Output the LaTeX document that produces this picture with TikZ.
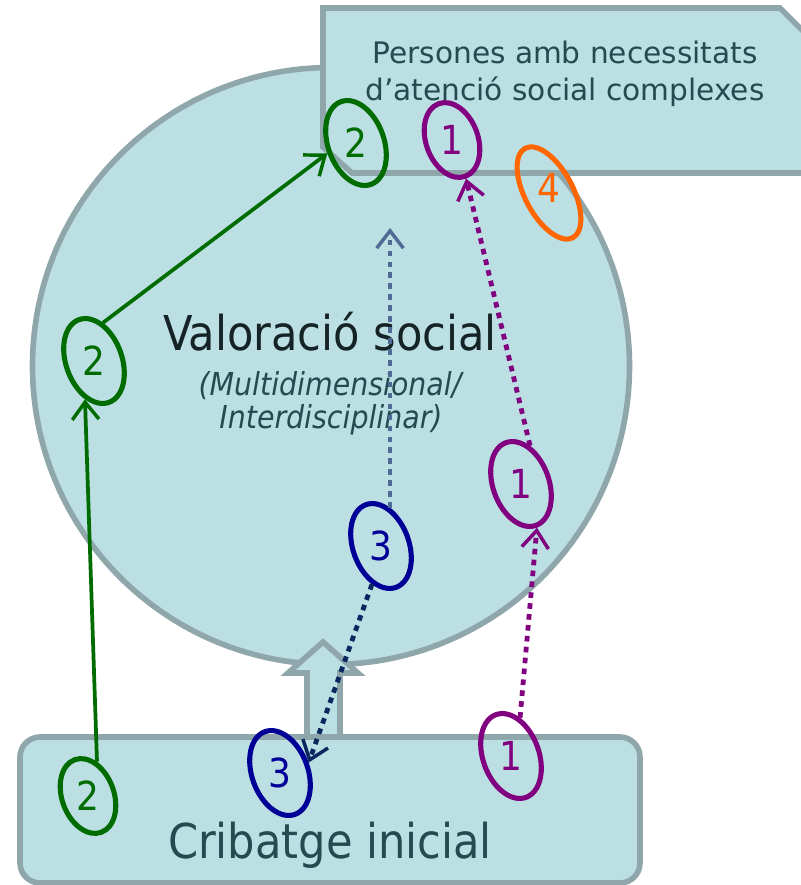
\documentclass[tikz,border=0pt]{standalone}
\usepackage{fontspec}
\setmainfont{DejaVu Sans Condensed}
\newfontfamily\widefont{DejaVu Sans}
\usetikzlibrary{shapes.geometric,arrows.meta}
\definecolor{fillc}{RGB}{187,223,227}
\definecolor{edgec}{RGB}{143,167,170}
\definecolor{txtc}{RGB}{35,75,80}
\definecolor{darkc}{RGB}{22,35,38}
\definecolor{gc}{RGB}{0,108,0}
\definecolor{pc}{RGB}{128,0,128}
\definecolor{bc}{RGB}{0,0,150}
\definecolor{oc}{RGB}{255,102,0}
\definecolor{navyc}{RGB}{10,40,95}
\definecolor{slatec}{RGB}{80,106,150}
\begin{document}
\begin{tikzpicture}[x=0.75pt,y=-0.75pt,
  shapebox/.style={fill=fillc,draw=edgec,line width=4.2pt,line join=miter},
  oval/.style={ellipse,draw,line width=3.8pt,inner sep=0pt,minimum width=42pt,minimum height=66pt,rotate=20},
  smalloval/.style={oval,minimum width=39pt,minimum height=58pt},
  num/.style={font=\fontsize{30}{30}\selectfont,inner sep=0pt},
  barbtip/.style={-{Straight Barb[length=13pt,width=20pt,line width=2.6pt]}},
  solidlink/.style={barbtip,line width=2.8pt,draw=gc},
  dotlink/.style={barbtip,line width=3.6pt,dash pattern=on 4.2pt off 4pt},
  bigtext/.style={font=\fontsize{36}{42}\selectfont,anchor=base,inner sep=0pt},
  midtext/.style={font=\widefont\fontsize{22.2}{26}\selectfont,text=txtc,anchor=base,inner sep=0pt},
  ittext/.style={font=\itshape\fontsize{23.7}{28}\selectfont,text=txtc,anchor=base,inner sep=0pt}
]
\useasboundingbox (0,0) rectangle (800,885);
% big circle
\node[circle,shapebox,minimum size=447.75pt,inner sep=0pt] (valc) at (331,366) {};
% block arrow
\draw[shapebox] (307,750) -- (307,673) -- (288,673) -- (323,642) -- (358,673) -- (340,673) -- (340,750);
% bottom box
\node[shapebox,rounded corners=15pt,minimum width=465pt,minimum height=109.5pt,inner sep=0pt] (cribbox) at (330,810) {};
% banner
\draw[shapebox] (323,8) -- (780,8) -- (815,43) -- (815,173) -- (352,173) -- (323,147) -- cycle;
% texts
\node[midtext] (pers1) at (565,63) {Persones amb necessitats};
\node[midtext] (pers2) at (565,100) {d’atenció social complexes};
\node[bigtext,text=darkc] (val) at (330,350) {Valoració social};
\node[ittext] (m1) at (330,395) {(Multidimensional/};
\node[ittext] (m2) at (331,428) {Interdisciplinar)};
\node[bigtext,text=txtc] (crib) at (330,858) {Cribatge inicial};
% ellipses
\node[oval,draw=gc] (g1) at (356,143) {};
\node[oval,draw=gc] (g2) at (94,361) {};
\node[smalloval,draw=gc] (g3) at (88,796) {};
\node[smalloval,draw=pc] (p1) at (452,140) {};
\node[oval,draw=pc] (p2) at (521,484) {};
\node[oval,draw=pc] (p3) at (511,756) {};
\node[oval,draw=bc] (b2) at (381,546) {};
\node[oval,draw=bc] (b1) at (280,773) {};
\node[oval,draw=oc,minimum width=36pt,minimum height=76pt,rotate=8] (o4) at (549,193) {};
% digits
\node[num,text=gc] at (g1) {2};
\node[num,text=gc] at (g2) {2};
\node[num,text=gc] at (g3) {2};
\node[num,text=pc] at (p1) {1};
\node[num,text=pc] at (p2) {1};
\node[num,text=pc] at (p3) {1};
\node[num,text=bc] at (b2) {3};
\node[num,text=bc] at (b1) {3};
\node[num,text=oc] at ([yshift=4pt]o4.center) {4};
% connectors
\draw[solidlink] (g3.north east) -- (g2.south west);
\draw[solidlink] (g2.north east) -- (g1.west);
\draw[dotlink,draw=navyc] (b2.south west) -- (b1.east);
\coordinate (bt) at (389,228);
\draw[dotlink,draw=slatec] (b2.north east) -- (b2.north east |- bt);
\draw[dotlink,draw=pc] (p3.north east) -- (p2.south);
\draw[dotlink,draw=pc] (p2.north east) -- (p1.south);
\end{tikzpicture}
\end{document}
